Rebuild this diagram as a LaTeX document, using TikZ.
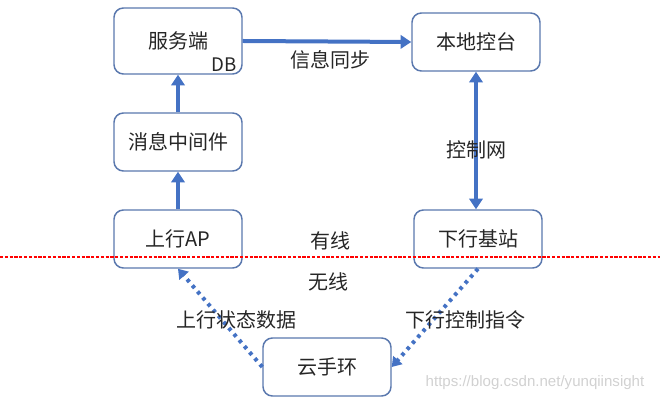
\documentclass[tikz,border=0pt]{standalone}
\usepackage{fontspec}
\setmainfont{Noto Sans CJK SC}
\newfontfamily\wmfont{Liberation Sans}
\usetikzlibrary{arrows.meta}
\definecolor{arrowblue}{HTML}{4472C4}
\definecolor{boxline}{HTML}{5A78AE}
\definecolor{txt}{HTML}{262626}
\definecolor{cutred}{HTML}{FF0000}
\tikzset{
	box/.style={draw=boxline, line width=1.1pt, rounded corners=7pt, fill=white, text=txt,
		minimum width=96pt, minimum height=43.5pt, inner sep=0pt},
	solidarrow/.style={draw=arrowblue, line width=3pt, -{Triangle[length=8pt,width=10pt]}},
	dotarrow/.style={draw=arrowblue, line width=3pt, dash pattern=on 2.6pt off 3.4pt,
		-{Triangle[length=7pt,width=9pt]}},
	lbl/.style={text=txt}
}
\begin{document}
\begin{tikzpicture}[font=\fontsize{15}{18}\selectfont, line join=round, x=0.75pt, y=-0.75pt]
			\useasboundingbox (0,0) rectangle (660,402);
			% boxes
			\node[box, minimum height=49.5pt] (srv) at (178,41) {服务端};
			\node[box] (ctl) at (476,42) {本地控台};
			\node[box] (mq) at (178,142) {消息中间件};
			\node[box] (ap) at (178,239) {上行AP};
			\node[box] (bs) at (478,239) {下行基站};
			\node[box] (band) at (327,367) {云手环};
			% wired links
			\draw[solidarrow] (ap.north) -- (mq.south);
			\draw[solidarrow] (mq.north) -- (srv.south);
			\draw[solidarrow] (srv.east) -- (ctl.west);
			\draw[solidarrow, {Triangle[length=8pt,width=10pt]}-{Triangle[length=8pt,width=10pt]}] (ctl.south) -- (ctl.south |- bs.north);
			% wireless links
			\draw[dotarrow] (band.west) -- (ap.south);
			\draw[dotarrow] (bs.south) -- (band.east);
			% wired / wireless border
			\coordinate (cutL) at (0,257);
			\coordinate (cutR) at (660,257);
			\draw[cutred, line width=1pt, dash pattern=on 2.4pt off 1.2pt] (cutL) -- (cutR);
			% labels
			\node[lbl, font=\fontsize{14}{16}\selectfont] (db) at (224,65) {DB};
			\node[lbl] (sync) at (330,60) {信息同步};
			\node[lbl] (net) at (476,150) {控制网};
			\node[lbl] (wired) at (330,241) {有线};
			\node[lbl] (wless) at (328,282) {无线};
			\node[lbl] (up) at (236,320) {上行状态数据};
			\node[lbl] (down) at (465,320) {下行控制指令};
			\node[text=black!18, font=\wmfont\fontsize{11.3}{13}\selectfont] (wm) at (535,383) {https://blog.csdn.net/yunqiinsight};
	\end{tikzpicture}
\end{document}
